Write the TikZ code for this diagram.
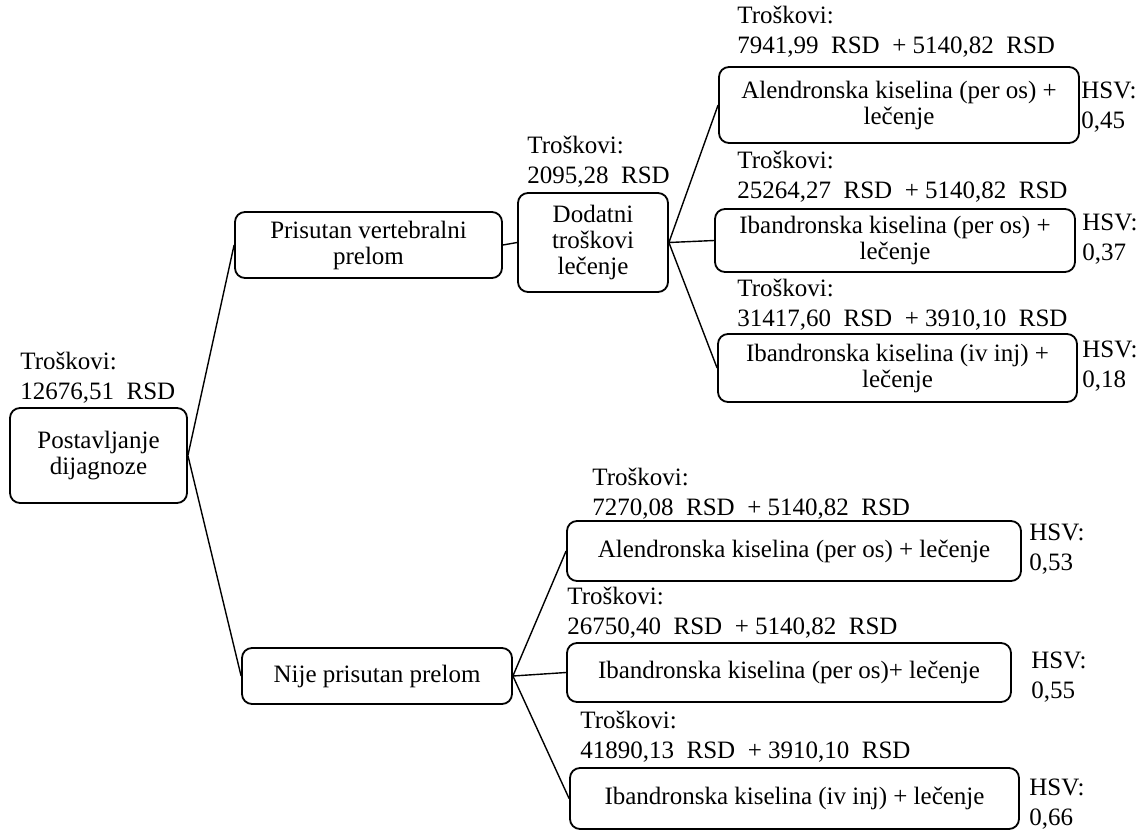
\documentclass[tikz,border=0pt]{standalone}
\usepackage{fontspec}
\setmainfont{Liberation Serif}
\usetikzlibrary{positioning}

\begin{document}
\begin{tikzpicture}[x=0.5pt, y=-0.5pt]
%\draw[very thin, color = gray](0, 0) grid[step=50] (1137, 831);
\tikzstyle{block} = [draw, rectangle, rounded corners = 5pt, line width = 0.9pt,
  align = center, inner sep = 0pt, font = \fontsize{12.5}{13}\selectfont];
\tikzstyle{cost} = [anchor = west, align = left, inner sep = 0pt,
  font = \fontsize{12.5}{15}\selectfont];
\tikzstyle{line} = [draw, line width = 0.7pt]
\useasboundingbox (0, 0) rectangle (1137, 831);
\node [block, minimum width = 88.5pt, minimum height = 47.5pt] at (98.5, 455.5) (root) {Postavljanje\\dijagnoze};
\node [block, minimum width = 133.5pt, minimum height = 33pt] at (368.5, 245) (prisutan) {Prisutan vertebralni\\prelom};
\node [block, minimum width = 75pt, minimum height = 49.5pt] at (593, 242.5) (dodatni) {Dodatni\\troškovi\\lečenje};
\node [block, minimum width = 180pt, minimum height = 38pt] at (899, 105) (alenA) {Alendronska kiselina (per os) +\\lečenje};
\node [block, minimum width = 180pt, minimum height = 31.5pt] at (895, 240.5) (ibanA) {Ibandronska kiselina (per os) +\\lečenje};
\node [block, minimum width = 179.5pt, minimum height = 34pt] at (897.5, 368) (ivinjA) {Ibandronska kiselina (iv inj) +\\lečenje};
\node [block, minimum width = 135pt, minimum height = 28pt] at (377, 676) (nije) {Nije prisutan prelom};
\node [block, minimum width = 227pt, minimum height = 30pt] at (794, 551) (alenB) {Alendronska kiselina (per os) + lečenje};
\node [block, minimum width = 222pt, minimum height = 29.5pt] at (789, 672.5) (ibanB) {Ibandronska kiselina (per os)+ lečenje};
\node [block, minimum width = 224.5pt, minimum height = 30.5pt] at (794.5, 798.5) (ivinjB) {Ibandronska kiselina (iv inj) + lečenje};
\path [line] (root.east) -- (prisutan.west);
\path [line] (root.east) -- (nije.west);
\path [line] (prisutan.east) -- (dodatni.west);
\path [line] (dodatni.east) -- (alenA.west);
\path [line] (dodatni.east) -- (ibanA.west);
\path [line] (dodatni.east) -- (ivinjA.west);
\path [line] (nije.east) -- (alenB.west);
\path [line] (nije.east) -- (ibanB.west);
\path [line] (nije.east) -- (ivinjB.west);
\node [cost] at (20, 378) (croot) {Troškovi:\\12676,51~ RSD};
\node [cost] at (527, 162) (cdodatni) {Troškovi:\\2095,28~ RSD};
\node [cost] at (737, 32) (calenA) {Troškovi:\\7941,99~ RSD~ + 5140,82~ RSD};
\node [cost] at (737, 177) (cibanA) {Troškovi:\\25264,27~ RSD~ + 5140,82~ RSD};
\node [cost] at (737, 304.5) (civinjA) {Troškovi:\\31417,60~ RSD~ + 3910,10~ RSD};
\node [cost] at (592, 494) (calenB) {Troškovi:\\7270,08~ RSD~ + 5140,82~ RSD};
\node [cost] at (567, 613) (cibanB) {Troškovi:\\26750,40~ RSD~ + 5140,82~ RSD};
\node [cost] at (580, 737) (civinjB) {Troškovi:\\41890,13~ RSD~ + 3910,10~ RSD};
\node [cost] at (1081, 107.5) (halenA) {HSV:\\0,45};
\node [cost] at (1082, 239.5) (hibanA) {HSV:\\0,37};
\node [cost] at (1082, 366) (hivinjA) {HSV:\\0,18};
\node [cost] at (1029, 549) (halenB) {HSV:\\0,53};
\node [cost] at (1031, 677) (hibanB) {HSV:\\0,55};
\node [cost] at (1029, 804) (hivinjB) {HSV:\\0,66};
\end{tikzpicture}
\end{document}
